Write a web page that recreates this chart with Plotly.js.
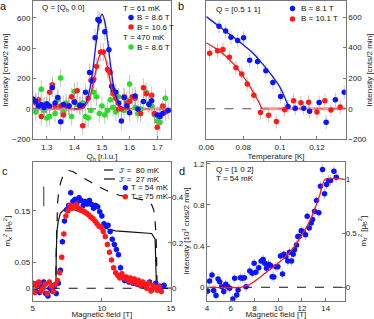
<!DOCTYPE html>
<html><head><meta charset="utf-8">
<script src="https://cdn.plot.ly/plotly-3.0.1.min.js"></script>
<style>html,body{margin:0;padding:0;background:#fff;} #chart{width:374px;height:319px;}</style>
</head><body><div id="chart"></div>
<script>
// ---------- Panel a : Q = [Qh 0 0] ----------
const aQBlue = [1.25,1.26,1.27,1.28,1.29,1.30,1.31,1.32,1.33,1.34,1.35,1.36,1.38,1.40,1.42,1.43,1.44,1.455,1.465,1.475,1.485,1.49,1.51,1.525,1.535,1.54,1.55,1.56,1.57,1.58,1.59,1.60,1.62,1.63,1.65,1.67,1.68,1.70,1.71,1.72,1.74];
const aIBlue = [65,50,20,30,10,35,20,140,40,75,-85,30,20,45,25,20,110,240,185,470,590,580,510,390,150,125,110,40,-80,75,20,-25,85,0,50,30,55,-40,-50,-30,-10];
const aQRed = [1.26,1.27,1.28,1.29,1.30,1.31,1.32,1.33,1.35,1.36,1.37,1.38,1.39,1.40,1.41,1.42,1.43,1.45,1.46,1.465,1.47,1.48,1.495,1.505,1.52,1.525,1.53,1.54,1.55,1.56,1.57,1.58,1.59,1.60,1.61,1.62,1.64,1.65,1.66,1.68,1.69,1.70,1.71,1.72,1.73];
const aIRed = [40,60,-50,20,20,110,160,20,20,-40,20,20,80,50,120,20,-110,70,190,190,195,280,375,375,260,250,240,100,70,0,0,80,40,50,80,70,-30,140,100,90,-30,-120,-40,20,-20];
const aQGreen = [1.26,1.28,1.29,1.30,1.31,1.33,1.34,1.35,1.36,1.37,1.38,1.39,1.40,1.41,1.43,1.44,1.45,1.46,1.47,1.48,1.49,1.50,1.51,1.52,1.53,1.54,1.55,1.56,1.58,1.59,1.60,1.62,1.63,1.64,1.66,1.67,1.68,1.69,1.70,1.71,1.73];
const aIGreen = [-20,130,-10,-60,-50,-30,60,205,-20,40,20,-50,115,30,40,-50,-60,-10,110,80,-30,20,-40,-10,60,10,-20,80,-10,60,165,10,-30,0,110,40,20,-40,-80,-90,70];
const aFitQ = [1.40,1.42,1.43,1.44,1.45,1.46,1.47,1.48,1.49,1.50,1.51,1.52,1.53,1.54,1.55,1.56,1.57,1.58,1.60];
const aFitBlue = [0,4,12,35,85,174,304,454,577,625,577,454,304,174,85,35,12,4,0];
const aFitRed = [0,2,7,21,51,104,183,272,346,375,346,272,183,104,51,21,7,2,0];
const aBaseQ = [1.25,1.43,null,1.57,1.75];
const aBaseI = [0,0,null,0,0];

// ---------- Panel b : Q = [0.5 1 1] ----------
const bTBlue = [0.0669,0.0705,0.0734,0.077,0.0802,0.0835,0.0878,0.0923,0.0961,0.1003,0.1043,0.1082,0.1128,0.116,0.1212,0.125,0.130,0.1348];
const bIBlue = [540,508,467,447,464,318,309,248,171,80,15,4,4,-17,41,-89,58,108];
const bTRed = [0.0618,0.0661,0.069,0.0725,0.0761,0.0792,0.0822,0.0858,0.0894,0.0938,0.098,0.1025,0.1073,0.1113,0.1155,0.12,0.1243,0.1276,0.1326];
const bIRed = [363,380,387,337,268,227,162,89,-24,-43,-84,-6,52,39,43,-22,52,-9,11];
const bFitBlueT = [0.06,0.065,0.07,0.075,0.08,0.085,0.09,0.095,0.1,0.102,0.104,0.1046];
const bFitBlueI = [603,557,511,466,418,368,300,226,140,88,30,0];
const bFitRedT = [0.06,0.065,0.07,0.075,0.08,0.083,0.086,0.088,0.089,0.0902];
const bFitRedI = [432,395,350,290,210,160,95,55,30,0];
const bBaseT = [0.0902,0.1356];
const bBaseI = [0,0];

// ---------- Panel c : m_x^2 vs field ----------
const cBBlue = [5.05,5.2,5.35,5.5,5.65,5.8,5.95,6.1,6.25,6.4,6.55,6.7,6.85,7.0,7.15,7.3,7.45,7.6,7.75,7.9,8.05,8.2,8.35,8.5,8.65,8.8,8.95,9.1,9.25,9.4,9.55,9.7,9.85,10.0,10.15,10.3,10.45,10.6,10.75,10.9,11.05,11.2,11.35,11.5,11.65,11.8,11.95,12.1,12.25,12.4,12.55,12.7,12.85,13.0,13.15,13.3,13.45,13.6,13.75,13.9,14.05,14.2,14.35,14.5];
const cMBlue = [0.008,-0.005,0.01,-0.008,0.003,0.012,-0.01,-0.015,0.0,-0.005,0.006,-0.01,0.01,0.035,0.09,0.13,0.152,0.16,0.185,0.168,0.172,0.165,0.175,0.17,0.16,0.168,0.163,0.17,0.162,0.155,0.16,0.158,0.148,0.14,0.125,0.12,0.122,0.11,0.095,0.085,0.075,0.065,0.04,0.022,0.015,0.02,0.012,0.018,0.01,0.015,0.008,0.012,0.005,0.01,0.003,0.008,0.012,-0.003,0.005,0.01,-0.002,0.004,0.003,0.006];
const cBRed = [5.0,5.15,5.3,5.45,5.6,5.75,5.9,6.05,6.2,6.35,6.5,6.65,6.8,6.95,7.1,7.25,7.4,7.55,7.7,7.85,8.0,8.15,8.3,8.45,8.6,8.75,8.9,9.05,9.2,9.35,9.5,9.65,9.8,9.95,10.1,10.25,10.4,10.55,10.7,10.85,11.0,11.15,11.3,11.45,11.6,11.75,11.9,12.05,12.2,12.35,12.5,12.65,12.8,12.95,13.1,13.25,13.4,13.55,13.7,13.85,14.0,14.15,14.3];
const cMRed = [0.01,-0.008,0.005,0.012,-0.005,0.0,0.008,-0.01,0.012,0.004,-0.006,0.008,0.015,0.03,0.06,0.105,0.14,0.15,0.16,0.155,0.158,0.162,0.155,0.152,0.15,0.148,0.145,0.142,0.138,0.135,0.13,0.125,0.12,0.118,0.11,0.1,0.085,0.07,0.055,0.04,0.03,0.025,0.02,0.028,0.02,0.022,0.015,0.02,0.012,0.018,0.01,0.015,0.005,0.012,0.008,0.0,0.01,-0.005,0.005,0.002,-0.004,0.003,-0.006];
const cTh80B = [5.0,6.66,6.7,6.74,6.8,6.88,7.0,7.17,7.35,7.58,7.9,8.3,8.8,9.4,10.0,10.6,11.2,11.8,12.4,13.0,13.4,13.6,13.76,13.85,13.93,14.0,15.0];
const cTh80M = [0,0,0.07,0.129,0.165,0.187,0.203,0.216,0.224,0.228,0.226,0.219,0.2115,0.202,0.1935,0.186,0.1806,0.177,0.174,0.171,0.167,0.162,0.151,0.13,0.096,0,0];
const cTh27B = [5.0,6.68,6.7,6.75,6.85,7.0,7.3,7.6,8.0,8.5,9.0,9.5,10.0,10.5,11.0,12.0,13.0,13.6,13.85,13.95,15.0];
const cTh27M = [0,0,0.06,0.11,0.13,0.145,0.153,0.154,0.152,0.147,0.14,0.13,0.12,0.114,0.111,0.109,0.108,0.106,0.095,0,0];
const cScaleB = [5.8,5.8];
const cScaleM = [0.159,0.197];

// ---------- Panel d : Q = [1 0 2] ----------
const dB = [4.06,4.22,4.42,4.56,4.76,4.93,5.07,5.24,5.41,5.58,5.74,5.91,6.17,6.33,6.5,6.62,6.81,6.98,7.15,7.29,7.6,7.82,7.97,8.11,8.36,8.56,8.73,8.87,9.01,9.18,9.35,9.49,9.63,9.8,9.97,10.19,10.36,10.47,10.64,10.81,10.95,11.12,11.26,11.37,11.54,11.65,11.77,11.94,12.1,12.3,12.44,12.61,12.78,12.89,13.06,13.23,13.42,13.56,13.73,13.9,14.07,14.24,14.41,14.69,14.89];
const dI = [-0.036,0.061,0.12,-0.03,-0.08,0.081,0.055,0.006,-0.04,0.029,0.006,-0.01,-0.114,0.087,-0.075,-0.026,0.094,0.087,0.094,0.006,0.159,0.136,0.233,0.146,0.191,0.256,0.269,0.233,0.185,0.224,0.211,0.103,0.10,0.2,0.2,0.305,0.13,0.321,0.298,0.256,0.34,0.256,0.321,0.364,0.412,0.494,0.494,0.55,0.537,0.511,0.69,0.576,0.625,0.658,0.739,0.843,0.723,0.982,1.145,0.908,0.998,1.037,1.037,1.128,1.07];
const dFitB = [4.4,6.8,7.5,8,8.5,9,9.5,10,10.5,11,11.5,12,12.5,13,13.5,13.95,15.6];
const dFitM = [0,0,0.02,0.055,0.095,0.14,0.18,0.225,0.27,0.33,0.4,0.485,0.58,0.7,0.855,1.0,1.0];

// ---------- styles ----------
const FONT = 'Liberation Sans, Arial, sans-serif';
const BLUE = '#0a14ff', RED = '#ff1a1a', GREEN = '#22e022';
const EB = 'rgba(150,150,150,0.55)';
function mk(color){ return {color: color, size: 5.5}; }
function eb(v, c){ return {type:'constant', value:v, color:c||EB, thickness:1, width:0}; }

const traces = [
  // a
  {x:aBaseQ, y:aBaseI, xaxis:'x', yaxis:'y', mode:'lines', line:{color:'rgba(255,110,110,0.7)', width:3}, connectgaps:false},
  {x:aQGreen, y:aIGreen, xaxis:'x', yaxis:'y', mode:'markers', marker:mk(GREEN), error_y:eb(60), name:'T = 470 mK, B = 8.6 T'},
  {x:aQRed, y:aIRed, xaxis:'x', yaxis:'y', mode:'markers', marker:mk(RED), error_y:eb(60), name:'T = 61 mK, B = 10.6 T'},
  {x:aQBlue, y:aIBlue, xaxis:'x', yaxis:'y', mode:'markers', marker:mk(BLUE), error_y:eb(60), name:'T = 61 mK, B = 8.6 T'},
  {x:aFitQ, y:aFitBlue, xaxis:'x', yaxis:'y', mode:'lines', line:{color:BLUE, width:1.3, shape:'spline'}},
  {x:aFitQ, y:aFitRed, xaxis:'x', yaxis:'y', mode:'lines', line:{color:RED, width:1.3, shape:'spline'}},
  // b
  {x:bBaseT, y:bBaseI, xaxis:'x2', yaxis:'y2', mode:'lines', line:{color:'rgba(255,110,110,0.7)', width:3}},
  {x:bTBlue, y:bIBlue, xaxis:'x2', yaxis:'y2', mode:'markers', marker:mk(BLUE), error_y:eb(45), name:'B = 8.1 T'},
  {x:bTRed, y:bIRed, xaxis:'x2', yaxis:'y2', mode:'markers', marker:mk(RED), error_y:eb(45), name:'B = 10.1 T'},
  {x:bFitBlueT, y:bFitBlueI, xaxis:'x2', yaxis:'y2', mode:'lines', line:{color:BLUE, width:1.3, shape:'spline'}},
  {x:bFitRedT, y:bFitRedI, xaxis:'x2', yaxis:'y2', mode:'lines', line:{color:RED, width:1.3, shape:'spline'}},
  // c
  {x:cTh80B, y:cTh80M, xaxis:'x3', yaxis:'y3', mode:'lines', line:{color:'#111', width:1.2, dash:'dash'}, name:"J' = 80 mK"},
  {x:cTh27B, y:cTh27M, xaxis:'x3', yaxis:'y3', mode:'lines', line:{color:'#111', width:1.2}, name:"J' = 27 mK"},
  {x:cBBlue, y:cMBlue, xaxis:'x3', yaxis:'y3', mode:'markers', marker:mk(BLUE), error_y:eb(0.007,'rgba(120,120,255,0.5)'), name:'T = 54 mK'},
  {x:cBRed, y:cMRed, xaxis:'x3', yaxis:'y3', mode:'markers', marker:mk(RED), error_y:eb(0.007,'rgba(255,120,120,0.5)'), name:'T = 75 mK'},
  {x:cScaleB, y:cScaleM, xaxis:'x3', yaxis:'y3', mode:'lines', line:{color:'#333', width:1}},
  {x:[], y:[], xaxis:'x3', yaxis:'y4', mode:'markers'},
  // d
  {x:dB, y:dI, xaxis:'x4', yaxis:'y5', mode:'markers', marker:mk(BLUE), error_y:eb(0.05), name:'T = 54 mK'},
  {x:dFitB, y:dFitM, xaxis:'x4', yaxis:'y6', mode:'lines', line:{color:RED, width:1.3, shape:'spline', smoothing:0.6}}
];

function ax(extra, title){
  const o = {showline:true, linecolor:'#777', linewidth:1, mirror:true, ticks:'inside', ticklen:3, tickcolor:'#777',
    showgrid:false, zeroline:false, fixedrange:true, tickfont:{family:FONT, size:8, color:'#222'}};
  if (title) o.title = {text:title.text, standoff:title.standoff, font:{family:FONT, size:8, color:'#222'}};
  return Object.assign(o, extra);
}

const yA = [0.56332, 0.99687], yC = [0.05737, 0.49310];

const layout = {
  width:374, height:319, margin:{l:0,r:0,t:0,b:0}, showlegend:false,
  paper_bgcolor:'#fff', plot_bgcolor:'#fff', font:{family:FONT, size:8, color:'#222'},
  xaxis: ax({domain:[0.08824,0.45722], anchor:'y', range:[1.25,1.75], tickvals:[1.3,1.4,1.5,1.6,1.7]}, {text:'Q<sub>h</sub> [r.l.u.]', standoff:1}),
  yaxis: ax({domain:yA, anchor:'x', range:[-200,712], tickvals:[-200,0,200,400,600]}, {text:'Intensity [cnts/2 min]', standoff:2}),
  xaxis2: ax({domain:[0.55160,0.92433], anchor:'y2', range:[0.06,0.1356], tickvals:[0.06,0.08,0.1,0.12], ticktext:['0.06','0.08','0.1','0.12']}, {text:'Temperature [K]', standoff:1}),
  yaxis2: ax({domain:yA, anchor:'x2', side:'right', range:[-200,705], tickvals:[-200,0,200,400,600]}, {text:'Intensity [cnts/2 min]', standoff:2}),
  xaxis3: ax({domain:[0.08743,0.45722], anchor:'y3', range:[5,15], tickvals:[5,10,15]}, {text:'Magnetic field [T]', standoff:3}),
  yaxis3: ax({domain:yC, anchor:'x3', range:[-0.024,0.245], tickvals:[0,0.05,0.15], ticktext:['0','0.05','0.15']}, {text:'m<sub>x</sub><sup>2</sup> [μ<sub>B</sub><sup>2</sup>]', standoff:2}),
  yaxis4: ax({overlaying:'y3', anchor:'x3', side:'right', range:[-0.0545,0.5565], tickvals:[0,0.2,0.4], mirror:false, showline:false}),
  xaxis4: ax({domain:[0.55348,0.92166], anchor:'y5', range:[4,15.6], tickvals:[4,6,8,10,12,14]}, {text:'Magnetic field [T]', standoff:3}),
  yaxis5: ax({domain:yC, anchor:'x4', range:[-0.13,1.22], tickvals:[0,0.4,0.8,1.2]}, {text:'Intensity [10<sup>3</sup> cnts/2 min]', standoff:2}),
  yaxis6: ax({overlaying:'y5', anchor:'x4', side:'right', range:[-0.124,1.163], tickvals:[0,0.5,1], mirror:false, showline:false}, {text:'m<sub>z</sub><sup>2</sup> [μ<sub>B</sub><sup>2</sup>]', standoff:3}),
  shapes: [
    {type:'line', xref:'x domain', yref:'y', x0:0, x1:1, y0:0, y1:0, layer:'below', line:{color:'#666', width:1.2, dash:'dash'}},
    {type:'line', xref:'x2 domain', yref:'y2', x0:0, x1:1, y0:0, y1:0, layer:'below', line:{color:'#555', width:1.2, dash:'dash'}},
    {type:'line', xref:'x3 domain', yref:'y3', x0:0, x1:1, y0:0, y1:0, layer:'below', line:{color:'#111', width:1.1, dash:'dash'}},
    {type:'line', xref:'x4 domain', yref:'y5', x0:0, x1:1, y0:0, y1:0, layer:'below', line:{color:'#111', width:1.1, dash:'dash'}}
  ],
  annotations: []
};

// legend symbols / texts (paper coordinates)
function txt(x, y, t, size, anchor){
  layout.annotations.push({xref:'paper', yref:'paper', x:x/374, y:1-y/319, text:t, showarrow:false,
    xanchor:anchor||'left', yanchor:'middle', font:{family:FONT, size:size||8, color:'#111'}});
}
function dot(x, y, c){
  layout.shapes.push({type:'circle', xref:'paper', yref:'paper', xsizemode:'pixel', ysizemode:'pixel',
    xanchor:x/374, yanchor:1-y/319, x0:-2.7, x1:2.7, y0:-2.7, y1:2.7, fillcolor:c, line:{width:0}});
}
function seg(x0, x1, y, dash){
  layout.shapes.push({type:'line', xref:'paper', yref:'paper', x0:x0/374, x1:x1/374, y0:1-y/319, y1:1-y/319,
    line:{color:'#111', width:1.2, dash:dash||'solid'}});
}
// panel letters
txt(4, 6, 'a', 11, 'center'); txt(181, 6, 'b', 11, 'center');
txt(5, 171, 'c', 11, 'center'); txt(182, 171, 'd', 11, 'center');
// a
txt(40, 8.5, 'Q = [Q<sub>h</sub> 0 0]');
txt(121, 8, 'T = 61 mK'); dot(131, 17.5, BLUE); txt(135, 17.5, 'B = 8.6 T');
dot(131, 27, RED); txt(135, 27, 'B = 10.6 T');
txt(121, 37, 'T = 470 mK'); dot(131, 47, GREEN); txt(135, 47, 'B = 8.6 T');
// b
txt(213.7, 9, 'Q = [0.5 1 1]');
dot(292.5, 8.5, BLUE); txt(299, 8.5, 'B = 8.1 T');
dot(292.5, 19, RED); txt(299, 19, 'B = 10.1 T');
// c
seg(104, 115, 170, 'dash'); txt(117, 170, "J' =  80 mK");
seg(104, 115, 179); txt(117, 179, "J' =  27 mK");
dot(125.3, 187.7, BLUE); txt(129, 187.7, 'T = 54 mK');
dot(125.3, 196.7, RED); txt(129, 196.7, 'T = 75 mK');
// d
txt(213.7, 169, 'Q = [1 0 2]');
txt(213.7, 178.3, 'T = 54 mK');

Plotly.newPlot('chart', traces, layout, {displayModeBar:false, staticPlot:true});
</script></body></html>
